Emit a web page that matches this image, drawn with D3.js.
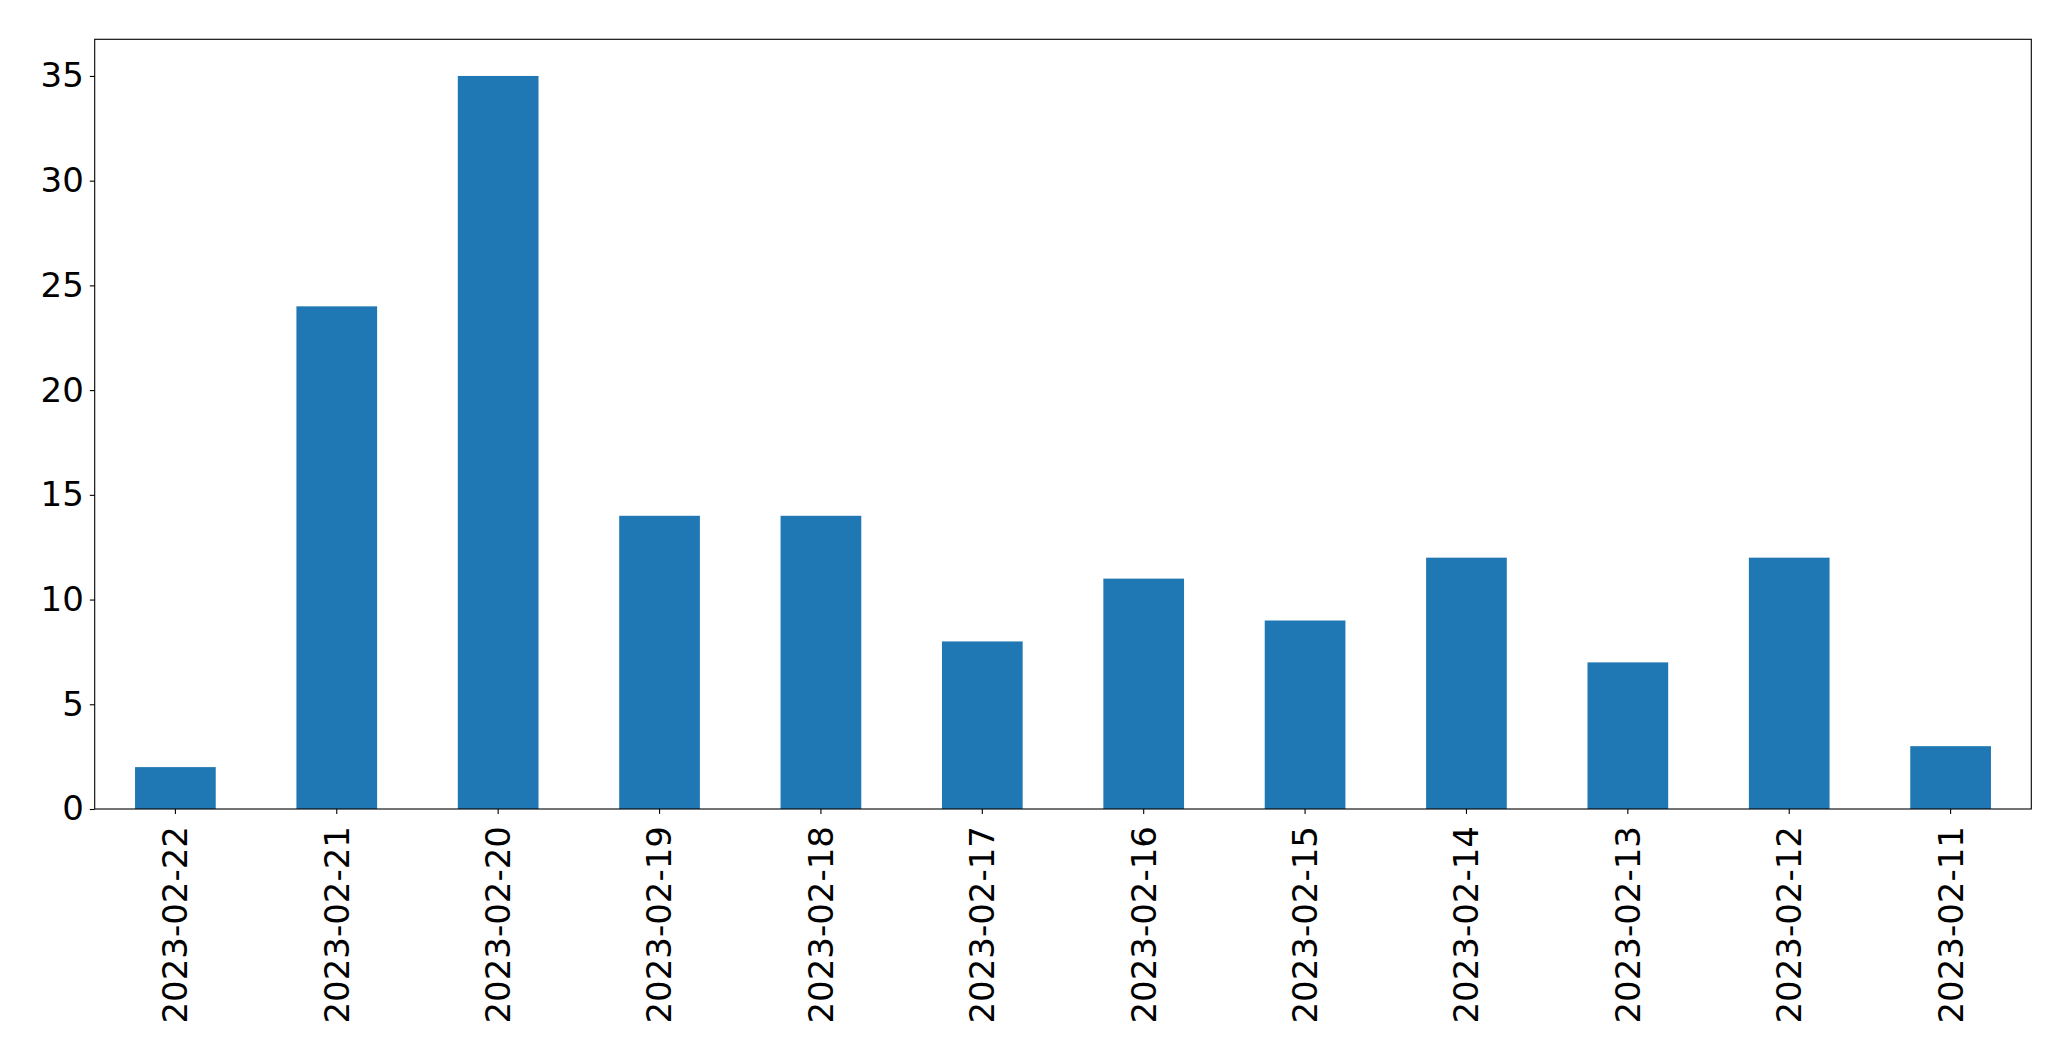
<!DOCTYPE html>
<html>
<head>
<meta charset="utf-8">
<script src="https://cdn.jsdelivr.net/npm/d3@7"></script>
<style>
  html, body { margin: 0; padding: 0; background: #fff; }
  svg { display: block; }
  text { font-family: "DejaVu Sans", sans-serif; }
</style>
</head>
<body>
<script>
const categories = ["2023-02-22","2023-02-21","2023-02-20","2023-02-19","2023-02-18","2023-02-17","2023-02-16","2023-02-15","2023-02-14","2023-02-13","2023-02-12","2023-02-11"];
const values = [2, 24, 35, 14, 14, 8, 11, 9, 12, 7, 12, 3];
const yTicks = [0, 5, 10, 15, 20, 25, 30, 35];

const W = 2071, H = 1061;
const margin = {left: 94.7, right: W - 2031.3, top: 39.3, bottom: H - 809};
const iw = W - margin.left - margin.right;
const ih = H - margin.top - margin.bottom;

const svg = d3.select("body").append("svg").attr("width", W).attr("height", H);
const g = svg.append("g").attr("transform", `translate(${margin.left},${margin.top})`);

const x = d3.scaleBand().domain(categories).range([0, iw]).paddingInner(0.5).paddingOuter(0.25);
const y = d3.scaleLinear().domain([0, d3.max(values) * 1.05]).range([ih, 0]);

g.selectAll("rect.bar").data(categories).join("rect")
  .attr("class", "bar")
  .attr("x", d => x(d))
  .attr("width", x.bandwidth())
  .attr("y", (d, i) => y(values[i]))
  .attr("height", (d, i) => y(0) - y(values[i]))
  .attr("fill", "#1f77b4");

const fs = 34;
const yAxis = g.append("g").call(d3.axisLeft(y).tickValues(yTicks).tickSize(4.9).tickPadding(6).tickFormat(d3.format("d")));
yAxis.select(".domain").remove();
yAxis.selectAll("line").attr("stroke", "#000").attr("stroke-width", 1.1);
yAxis.selectAll("text").attr("font-size", fs).attr("fill", "#000").attr("font-family", "DejaVu Sans");

const xAxis = g.append("g").attr("transform", `translate(0,${ih})`)
  .call(d3.axisBottom(x).tickSize(4.9).tickPadding(0));
xAxis.select(".domain").remove();
xAxis.selectAll("line").attr("stroke", "#000").attr("stroke-width", 1.1);
xAxis.selectAll("text")
  .attr("font-size", fs).attr("fill", "#000").attr("font-family", "DejaVu Sans")
  .attr("transform", "translate(0,17) rotate(-90)")
  .attr("text-anchor", "end")
  .attr("dy", "0.35em")
  .attr("x", 0).attr("y", 0);

g.append("rect").attr("x", 0).attr("y", 0).attr("width", iw).attr("height", ih)
  .attr("fill", "none").attr("stroke", "#000").attr("stroke-width", 1.1);
</script>
</body>
</html>
